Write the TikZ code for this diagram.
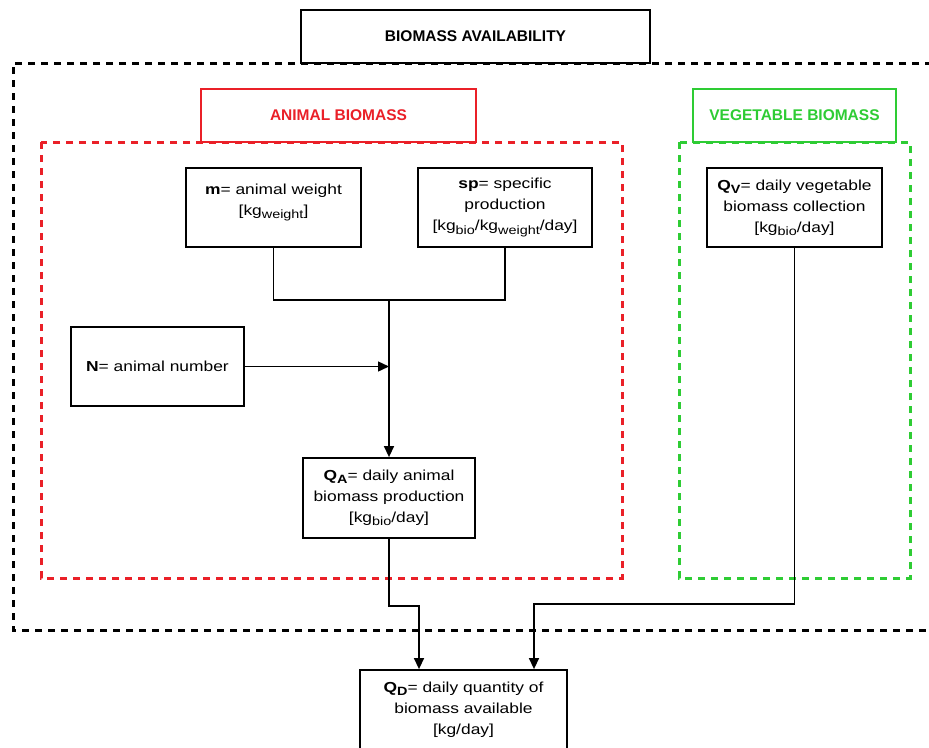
\documentclass[tikz,border=0pt]{standalone}
\usepackage{fontspec}
\setmainfont{Liberation Sans}
\newfontfamily\bodyfont[FakeStretch=1.2]{Liberation Sans}
\usetikzlibrary{arrows.meta}
\definecolor{animalred}{RGB}{234,32,40}
\definecolor{vegegreen}{RGB}{46,204,52}
% subscript set a little larger and lower than \textsubscript
\newcommand\lowsub[1]{\raisebox{-3.2pt}{\fontsize{12}{12}\selectfont #1}}
\tikzset{
  x=1pt, y=-1pt,
  infobox/.style={draw=black, line width=1.8pt, fill=white, align=center,
    font=\bodyfont\fontsize{14.5}{21}\selectfont, inner sep=2pt},
  headbox/.style={draw, line width=2.8pt, fill=white, align=center,
    font=\fontsize{15.5}{18}\selectfont\bfseries, minimum height=53pt},
  groupline/.style={line width=3pt, dash pattern=on 7pt off 6pt},
  flow/.style={line width=1.4pt, -{Triangle[length=11pt,width=10pt]}},
  link/.style={line width=1.4pt}
}
\begin{document}
\begin{tikzpicture}
\useasboundingbox (0,0) rectangle (929,747);

% group frames
\draw[groupline, black] (945,63) -| (13,630) -- (945,630);
\draw[groupline, animalred] (41,142) rectangle (622,578);
\draw[groupline, vegegreen] (679,142) rectangle (910,578);

% headings
\node[headbox, minimum width=349pt] (title) at (475.5,36.5) {BIOMASS AVAILABILITY};
\node[headbox, draw=animalred, text=animalred, minimum width=275pt] (animal) at (338.5,115.5) {ANIMAL BIOMASS};
\node[headbox, draw=vegegreen, text=vegegreen, minimum width=203pt] (vege) at (794.5,115.5) {VEGETABLE BIOMASS};

% quantities
\node[infobox, minimum width=175pt, minimum height=79pt] (m) at (273.5,207.5)
  {\textbf{m}= animal weight\\{[}kg\lowsub{weight}{]}\\[-11pt]\strut};
\node[infobox, minimum width=174pt, minimum height=79pt] (sp) at (505,207.5)
  {\textbf{sp}= specific\\production\\{[}kg\lowsub{bio}/kg\lowsub{weight}/day{]}};
\node[infobox, minimum width=175pt, minimum height=79pt] (qv) at (794.5,207.5)
  {\textbf{Q\lowsub{V}}= daily vegetable\\biomass collection\\{[}kg\lowsub{bio}/day{]}};
\node[infobox, minimum width=173pt, minimum height=79pt] (n) at (157.5,366.5)
  {\textbf{N}= animal number};
\node[infobox, minimum width=172pt, minimum height=80pt] (qa) at (389,498)
  {\textbf{Q\lowsub{A}}= daily animal\\biomass production\\{[}kg\lowsub{bio}/day{]}};
\node[infobox, minimum width=207pt, minimum height=80pt] (qd) at (463.5,710)
  {\textbf{Q\lowsub{D}}= daily quantity of\\biomass available\\{[}kg/day{]}};

% connectors
\coordinate (join) at (389,300);
\coordinate (bendA) at (419,606);
\coordinate (bendV) at (534,604);
\draw[link] (m.south) |- (join) -| (sp.south);
\draw[flow] (join) -- (qa.north);
\draw[flow] (n.east) -- (n.east -| join);
\draw[flow] (qa.south) |- (bendA) -- (bendA |- qd.north);
\draw[flow] (qv.south) |- (bendV) -- (bendV |- qd.north);
\end{tikzpicture}
\end{document}
